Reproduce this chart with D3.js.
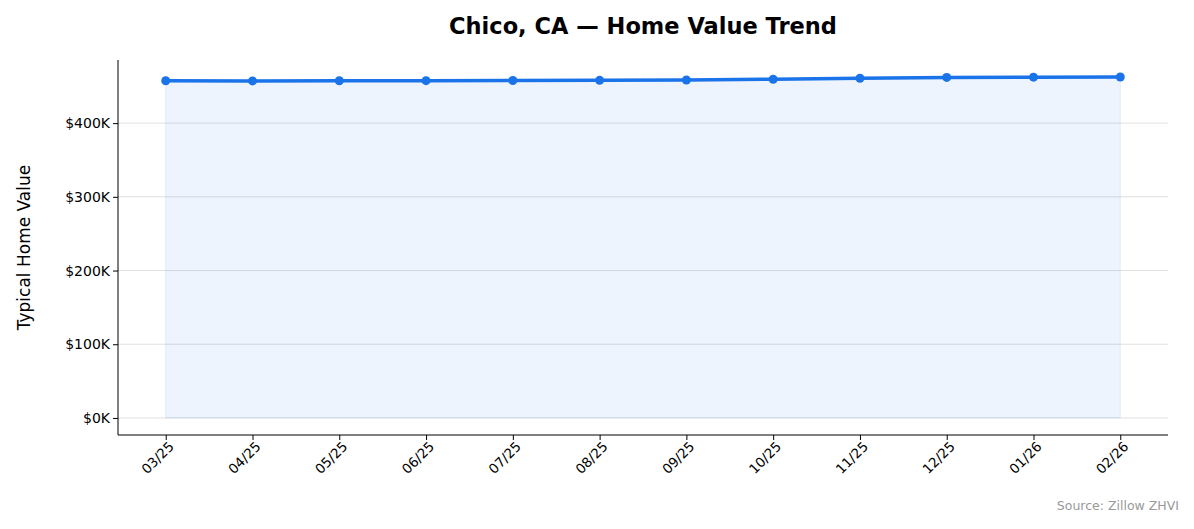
<!DOCTYPE html><html><head><script src="https://cdn.jsdelivr.net/npm/d3@7"></script>
<style>body{margin:0;background:#fff}text{font-family:"DejaVu Sans",sans-serif}</style></head><body>
<svg id="c" width="1194" height="529"></svg>
<script>
const months=["03/25","04/25","05/25","06/25","07/25","08/25","09/25","10/25","11/25","12/25","01/26","02/26"];
const values=[457500,457300,457400,457600,457800,458000,458500,459500,460800,462000,462300,462500];
const yTicks=[0,100000,200000,300000,400000];
const svg=d3.select("#c");
const L=118,R=1168,T=60,B=435;
const x=d3.scaleLinear().domain([-0.55,11.55]).range([L,R]);
const maxV=d3.max(values);
const y=d3.scaleLinear().domain([-maxV*0.05,maxV*1.05]).range([B,T]);
svg.append("g").selectAll("line").data(yTicks).join("line").attr("x1",L).attr("x2",R)
 .attr("y1",d=>y(d)).attr("y2",d=>y(d)).attr("stroke","#ccc").attr("stroke-opacity",0.6).attr("stroke-width",1);
svg.append("path").datum(values).attr("fill","#1a73e8").attr("fill-opacity",0.08).attr("stroke","#1a73e8").attr("stroke-opacity",0.1)
 .attr("d",d3.area().x((d,i)=>x(i)).y0(y(0)).y1(d=>y(d)));
svg.append("path").datum(values).attr("fill","none").attr("stroke","#1a73e8").attr("stroke-width",3.5)
 .attr("d",d3.line().x((d,i)=>x(i)).y(d=>y(d)));
svg.append("g").selectAll("circle").data(values).join("circle").attr("cx",(d,i)=>x(i)).attr("cy",d=>y(d)).attr("r",4.5).attr("fill","#1a73e8");
const ya=svg.append("g").attr("transform",`translate(${L},0)`).call(d3.axisLeft(y).tickValues(yTicks).tickSize(5).tickFormat(d=>"$"+(d/1000)+"K"));
ya.selectAll("text").attr("font-size",14).attr("fill","#000");
const xa=svg.append("g").attr("transform",`translate(0,${B})`).call(d3.axisBottom(x).tickValues(d3.range(12)).tickSize(5).tickFormat(i=>months[i]));
xa.selectAll("text").attr("font-size",13.5).attr("fill","#000").attr("text-anchor","end").attr("dx","-0.2em").attr("dy","0.5em").attr("transform","rotate(-45)");
[ya,xa].forEach(a=>{a.select(".domain").attr("stroke","#000");a.selectAll(".tick line").attr("stroke","#000");});
ya.select(".domain").attr("d",`M0,${B}V${T}`);
xa.select(".domain").attr("d",`M${L},0H${R}`);
svg.append("text").attr("x",643).attr("y",34).attr("text-anchor","middle").attr("font-size",22.5).attr("font-weight","bold").text("Chico, CA — Home Value Trend");
svg.append("text").attr("transform",`translate(30,${(T+B)/2}) rotate(-90)`).attr("text-anchor","middle").attr("font-size",17).text("Typical Home Value");
svg.append("text").attr("x",1179).attr("y",510).attr("text-anchor","end").attr("font-size",12.5).attr("fill","#999").text("Source: Zillow ZHVI");
</script></body></html>
